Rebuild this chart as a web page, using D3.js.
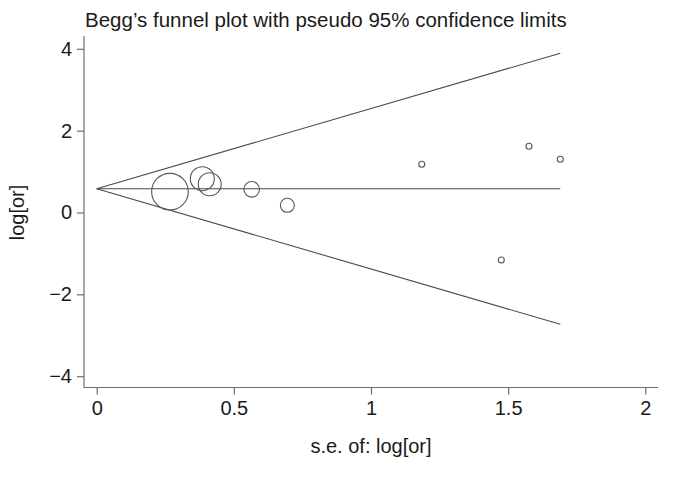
<!DOCTYPE html>
<html>
<head>
<meta charset="utf-8">
<script src="https://cdn.jsdelivr.net/npm/d3@7"></script>
<style>
  html, body { margin: 0; padding: 0; background: #fff; }
  svg { display: block; font-family: "Liberation Sans", Arial, Helvetica, sans-serif; }
</style>
</head>
<body>
<svg id="chart" width="675" height="479"></svg>
<script>
// ---- data ----
const studySE    = [0.267, 0.385, 0.412, 0.565, 0.695, 1.185, 1.576, 1.690, 1.475];
const studyLogOR = [0.51, 0.826, 0.69, 0.567, 0.176, 1.178, 1.62, 1.30, -1.16];
const studyWeight = [335, 144, 132, 61, 49, 9, 9, 9, 9];
const pooledLogOR = 0.58;
const maxSE = 1.69;
const xTicks = [0, 0.5, 1, 1.5, 2];
const yTicks = [-4, -2, 0, 2, 4];
const titleText = "Begg\u2019s funnel plot with pseudo 95% confidence limits";
const xTitle = "s.e. of: log[or]";
const yTitle = "log[or]";

const svg = d3.select("#chart");
const x = d3.scaleLinear().domain([0, 2]).range([96.7, 645.3]);
const y = d3.scaleLinear().domain([-4, 4]).range([376.2, 48.8]);
const r = d3.scaleSqrt().domain([0, d3.max(studyWeight)]).range([0, 18.3]);

const axisColor = "#6e6e6e";
const lineColor = "#4a4a4a";
const textColor = "#1a1a1a";
const fontSize = 20;

// axes
const xAxisY = 387.5, yAxisX = 84;
const xAxis = svg.append("g").attr("transform", `translate(0,${xAxisY})`)
  .call(d3.axisBottom(x).tickValues(xTicks).tickFormat(d3.format("")).tickSize(7).tickSizeOuter(0).tickPadding(6));
xAxis.select(".domain").remove();
xAxis.append("line").attr("x1", yAxisX).attr("x2", 658).attr("y1", 0).attr("y2", 0);
const yAxis = svg.append("g").attr("transform", `translate(${yAxisX},0)`)
  .call(d3.axisLeft(y).tickValues(yTicks).tickFormat(d => d < 0 ? "\u2212" + Math.abs(d) : d).tickSize(7).tickSizeOuter(0).tickPadding(5));
yAxis.select(".domain").remove();
yAxis.append("line").attr("x1", 0).attr("x2", 0).attr("y1", 36).attr("y2", xAxisY);
[xAxis, yAxis].forEach(g => {
  g.selectAll("line").attr("stroke", axisColor).attr("stroke-width", 1.2);
  g.selectAll("text").attr("font-size", fontSize).attr("fill", textColor)
    .attr("font-family", "Liberation Sans, Arial, sans-serif");
});

// funnel lines
const lines = [
  [[0, pooledLogOR], [maxSE, pooledLogOR]],
  [[0, pooledLogOR], [maxSE, pooledLogOR + 1.96 * maxSE]],
  [[0, pooledLogOR], [maxSE, pooledLogOR - 1.96 * maxSE]]
];
const lineGen = d3.line().x(d => x(d[0])).y(d => y(d[1]));
svg.append("g").selectAll("path").data(lines).join("path")
  .attr("d", lineGen).attr("fill", "none").attr("stroke", lineColor).attr("stroke-width", 1.1);

// studies
const studies = studySE.map((s, i) => ({ se: s, lor: studyLogOR[i], w: studyWeight[i] }));
svg.append("g").selectAll("circle").data(studies).join("circle")
  .attr("cx", d => x(d.se)).attr("cy", d => y(d.lor)).attr("r", d => r(d.w))
  .attr("fill", "none").attr("stroke", "#555").attr("stroke-width", 1.1);

// titles
svg.append("text").attr("x", 85).attr("y", 27).attr("font-size", 20.5).attr("fill", textColor).text(titleText);
svg.append("text").attr("x", 371).attr("y", 453).attr("text-anchor", "middle")
  .attr("font-size", fontSize).attr("fill", textColor).text(xTitle);
svg.append("text").attr("transform", `translate(24,${y(0)}) rotate(-90)`).attr("text-anchor", "middle")
  .attr("font-size", fontSize).attr("fill", textColor).text(yTitle);
</script>
</body>
</html>
